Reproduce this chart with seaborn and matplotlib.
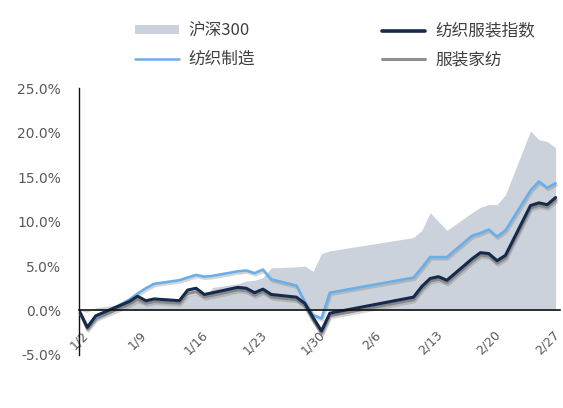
import matplotlib
matplotlib.use("Agg")
import matplotlib.pyplot as plt
import matplotlib.patheffects as pe
from matplotlib.patches import Patch
from matplotlib.lines import Line2D
import seaborn as sns
import pandas as pd
import numpy as np

sns.set_theme(style="white")
plt.rcParams['font.family'] = ['Noto Sans CJK SC', 'DejaVu Sans']

# ---------------- data ----------------
dates = ["2019-01-02", "2019-01-03", "2019-01-04", "2019-01-07", "2019-01-08", "2019-01-09",
         "2019-01-10", "2019-01-11", "2019-01-14", "2019-01-15", "2019-01-16", "2019-01-17",
         "2019-01-18", "2019-01-21", "2019-01-22", "2019-01-23", "2019-01-24", "2019-01-25",
         "2019-01-28", "2019-01-29", "2019-01-30", "2019-01-31", "2019-02-01", "2019-02-11",
         "2019-02-12", "2019-02-13", "2019-02-14", "2019-02-15", "2019-02-18", "2019-02-19",
         "2019-02-20", "2019-02-21", "2019-02-22", "2019-02-25", "2019-02-26", "2019-02-27",
         "2019-02-28"]

hs300 = [0.0, -0.2, 0.3, 0.7, 0.8, 1.0, 1.0, 1.2, 1.0, 1.6, 1.8, 1.5, 2.6, 3.0, 3.3, 3.4,
         3.7, 4.8, 4.9, 5.0, 4.4, 6.4, 6.7, 8.2, 9.0, 11.0, 10.0, 9.0, 11.0, 11.6, 11.9, 11.9,
         13.0, 20.2, 19.2, 19.0, 18.3]

textile_apparel = [0.0, -1.9, -0.6, 0.6, 1.0, 1.6, 1.1, 1.3, 1.1, 2.3, 2.5, 1.8, 2.0, 2.6,
                   2.5, 2.0, 2.4, 1.8, 1.5, 0.8, -0.8, -2.3, -0.3, 1.5, 2.7, 3.6, 3.8, 3.4,
                   5.8, 6.5, 6.4, 5.6, 6.2, 11.8, 12.1, 11.9, 12.7]

textile_mfg = [0.0, -1.8, -0.8, 0.7, 1.2, 1.9, 2.5, 3.0, 3.4, 3.7, 4.0, 3.8, 3.9, 4.4, 4.5,
               4.2, 4.6, 3.5, 2.8, 1.0, -0.5, -0.9, 2.0, 3.7, 4.8, 6.0, 6.0, 6.0, 8.4, 8.7,
               9.1, 8.3, 9.0, 13.5, 14.5, 13.8, 14.3]

apparel_home = [0.0, -2.1, -0.9, 0.3, 0.7, 1.2, 0.8, 1.0, 0.8, 1.9, 2.1, 1.5, 1.7, 2.3,
                2.2, 1.7, 2.1, 1.5, 1.2, 0.5, -1.1, -2.6, -0.6, 1.2, 2.4, 3.3, 3.5, 3.1,
                5.5, 6.2, 6.1, 5.3, 5.9, 11.5, 11.8, 11.6, 12.4]

series_names = ["沪深300", "纺织服装指数", "纺织制造", "服装家纺"]
tick_dates = ["2019-01-02", "2019-01-09", "2019-01-16", "2019-01-23", "2019-01-30",
              "2019-02-06", "2019-02-13", "2019-02-20", "2019-02-27"]
tick_labels = ["1/2", "1/9", "1/16", "1/23", "1/30", "2/6", "2/13", "2/20", "2/27"]
y_ticks = [-5, 0, 5, 10, 15, 20, 25]

# ---------------- figure ----------------
df = pd.DataFrame({
    "date": pd.to_datetime(dates),
    series_names[0]: hs300,
    series_names[1]: textile_apparel,
    series_names[2]: textile_mfg,
    series_names[3]: apparel_home,
})

c_area = "#CBD2DB"
c_dark = "#152A4C"
c_blue = "#6AAEE8"
c_gray = "#8F8F8F"

fig = plt.figure(figsize=(5.63, 4.08), dpi=100)
ax = fig.add_axes([0.1403, 0.130, 0.854, 0.654])

ax.fill_between(df["date"], 0, df[series_names[0]], color=c_area, lw=0, zorder=1)

shadow = [pe.SimpleLineShadow(offset=(0.8, -1.5), shadow_color="#777777", alpha=0.3), pe.Normal()]

sns.lineplot(data=df, x="date", y=series_names[3], ax=ax, color=c_gray, lw=2.0, zorder=3,
             path_effects=shadow)
sns.lineplot(data=df, x="date", y=series_names[2], ax=ax, color=c_blue, lw=1.9, zorder=4,
             path_effects=shadow)
sns.lineplot(data=df, x="date", y=series_names[1], ax=ax, color=c_dark, lw=2.2, zorder=5,
             path_effects=shadow)

x0 = pd.Timestamp("2019-01-02")
ax.set_xlim(x0, pd.Timestamp("2019-02-28") + pd.Timedelta(days=0.5))
ax.set_ylim(-5, 25)

ax.set_xticks(pd.to_datetime(tick_dates))
ax.set_xticklabels(tick_labels)
ax.set_yticks(y_ticks)
ax.set_yticklabels([f"{v:.1f}%" for v in y_ticks])

ax.set_xlabel("")
ax.set_ylabel("")
for s in ["top", "right"]:
    ax.spines[s].set_visible(False)
ax.spines["bottom"].set_position(("data", 0))
ax.spines["bottom"].set_color("#111111")
ax.spines["bottom"].set_linewidth(1.2)
ax.spines["bottom"].set_zorder(6)
ax.spines["left"].set_color("#111111")
ax.spines["left"].set_linewidth(1.0)

ax.tick_params(axis="x", direction="in", length=4, width=1, color="#111111",
               pad=13, labelsize=9, labelcolor="#595959", labelrotation=45)
ax.tick_params(axis="y", direction="in", length=4, width=1, color="#111111",
               pad=13, labelsize=10, labelcolor="#595959")
fig.canvas.draw()
for lab in ax.get_xticklabels():
    lab.set_family(["DejaVu Sans"])
    lab.set_rotation(45)
    lab.set_ha("center")
    lab.set_va("top")
for lab in ax.get_yticklabels():
    lab.set_family(["DejaVu Sans"])
ax.set_facecolor("white")

handles = [
    Patch(facecolor=c_area, edgecolor="none"),
    Line2D([], [], color=c_blue, lw=1.8),
    Line2D([], [], color=c_dark, lw=2.6),
    Line2D([], [], color=c_gray, lw=2.2),
]
labels = [series_names[0], series_names[2], series_names[1], series_names[3]]
leg = fig.legend(handles, labels, ncol=2, loc="upper left", bbox_to_anchor=(0.214, 0.981),
                 frameon=False, fontsize=12, handlelength=2.6, handleheight=0.45,
                 handletextpad=0.6, columnspacing=7.6, labelspacing=0.68,
                 labelcolor="#404040")

fig.savefig("out.png", dpi=100, facecolor="white")
